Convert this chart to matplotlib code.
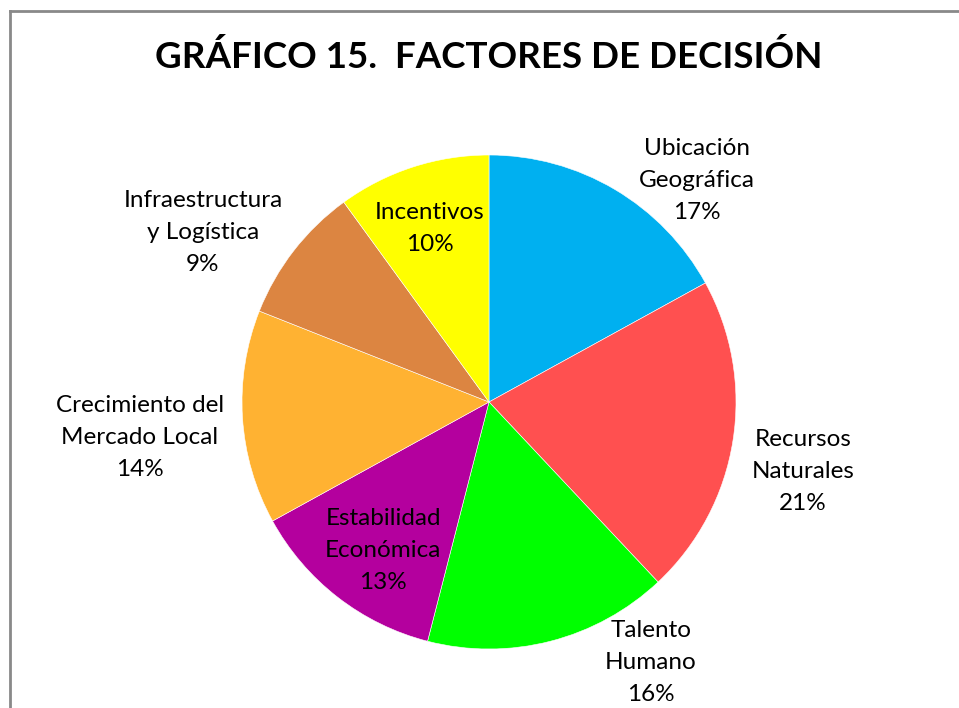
import matplotlib.pyplot as plt
from matplotlib.lines import Line2D

# datos
factores = ['Ubicación\nGeográfica', 'Recursos\nNaturales', 'Talento\nHumano',
            'Estabilidad\nEconómica', 'Crecimiento del\nMercado Local',
            'Infraestructura\ny Logística', 'Incentivos']
porcentajes = [17, 21, 16, 13, 14, 9, 10]

colores = ['#00B0F0', '#FF5050', '#00FF00', '#B4009E', '#FFB232', '#DC8541', '#FFFF00']
# posiciones de las etiquetas (en radios del pastel)
pos_etiquetas = [(0.842, 0.895), (1.271, -0.283), (0.656, -1.053), (-0.429, -0.603),
                 (-1.413, -0.142), (-1.158, 0.688), (-0.239, 0.704)]

plt.rcParams['font.family'] = ['Lato', 'DejaVu Sans']

W, H = 959, 708
fig = plt.figure(figsize=(W / 100, H / 100), dpi=100)

cx, cy, r = 489, 402, 247
ax = fig.add_axes([(cx - r) / W, (H - cy - r) / H, 2 * r / W, 2 * r / H])
ax.pie(porcentajes, colors=colores, startangle=90, counterclock=False,
       radius=1, wedgeprops=dict(edgecolor='white', linewidth=0.4))
ax.set_xlim(-1, 1)
ax.set_ylim(-1, 1)
ax.set_aspect('equal')
ax.axis('off')

for nombre, p, (x, y) in zip(factores, porcentajes, pos_etiquetas):
    ax.text(x, y, '%s\n%d%%' % (nombre, p), ha='center', va='center',
            fontsize=17.5, linespacing=1.65, color='black', clip_on=False)

fig.text(cx / W, 1 - 57 / H, 'GRÁFICO 15.  FACTORES DE DECISIÓN', ha='center', va='center',
         fontsize=26.5, fontweight='bold')

# borde
fig.add_artist(Line2D([9.5 / W, 9.5 / W], [0, 1 - 10.5 / H], color='#898989', lw=2))
fig.add_artist(Line2D([9.5 / W, 1], [1 - 10.5 / H, 1 - 10.5 / H], color='#898989', lw=2))

fig.savefig('out.png', dpi=100)
